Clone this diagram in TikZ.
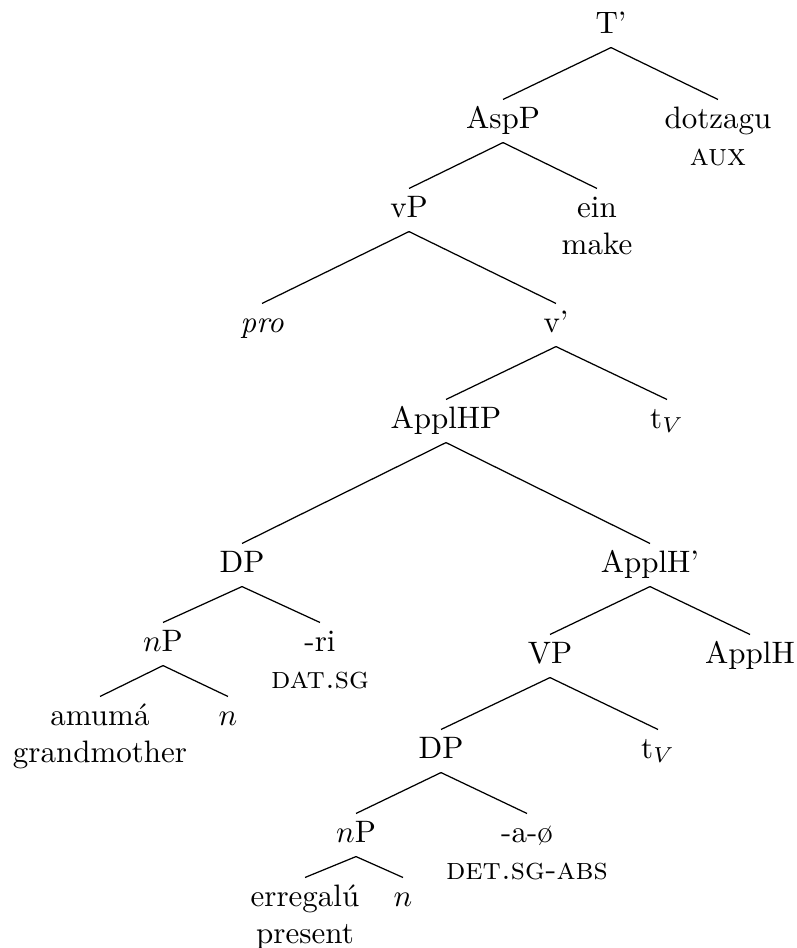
\documentclass[tikz,border=0pt]{standalone}
\usepackage{fontspec}
\begin{document}
\begin{tikzpicture}[x=0.32258pt,y=-0.32258pt,
  tn/.style={anchor=base,inner sep=0pt,text height=9pt,text depth=4.5pt},
  gl/.style={anchor=base,inner sep=0pt},
  br/.style={line width=0.4pt}]
\useasboundingbox (0,0) rectangle (797,948);
% nodes
\node[tn] (T) at (611,33) {T'};
\node[tn] (AspP) at (503,128) {AspP};
\node[tn] (dotz) at (718,128) {dotzagu};
\node[gl] (aux) at (718,165) {\textsc{aux}};
\node[tn] (vP) at (409,217) {vP};
\node[tn] (ein) at (597,217) {ein};
\node[gl] (make) at (597,254) {make};
\node[tn] (pro) at (262,332) {\textit{pro}};
\node[tn] (vbar) at (556,332) {v'};
\node[tn] (ApplHP) at (446,428) {ApplHP};
\node[tn] (tVa) at (667,428) {t$_V$};
\node[tn] (DPa) at (242,572) {DP};
\node[tn] (ApplHbar) at (650,572) {ApplH'};
\node[tn] (nPa) at (163,651) {$n$P};
\node[tn] (ri) at (320,651) {-ri};
\node[gl] (datsg) at (320,688) {\textsc{dat.sg}};
\node[tn] (VP) at (550,663) {VP};
\node[tn] (ApplH) at (750,663) {ApplH};
\node[tn] (amuma) at (100,725) {amumá};
\node[gl] (grand) at (100,762) {grandmother};
\node[tn] (na) at (228,725) {$n$};
\node[tn] (DPb) at (441,758) {DP};
\node[tn] (tVb) at (658,758) {t$_V$};
\node[tn] (nPb) at (356,842) {$n$P};
\node[tn] (a0) at (527,842) {-a-ø};
\node[gl] (detsg) at (527,879) {\textsc{det.sg-abs}};
\node[tn] (erreg) at (305,906) {erregalú};
\node[gl] (present) at (305,943) {present};
\node[tn] (nb) at (403,906) {$n$};
% branches
\draw[br] (T.south) -- (AspP.north);
\draw[br] (T.south) -- (dotz.north);
\draw[br] (AspP.south) -- (vP.north);
\draw[br] (AspP.south) -- (ein.north);
\draw[br] (vP.south) -- (pro.north);
\draw[br] (vP.south) -- (vbar.north);
\draw[br] (vbar.south) -- (ApplHP.north);
\draw[br] (vbar.south) -- (tVa.north);
\draw[br] (ApplHP.south) -- (DPa.north);
\draw[br] (ApplHP.south) -- (ApplHbar.north);
\draw[br] (DPa.south) -- (nPa.north);
\draw[br] (DPa.south) -- (ri.north);
\draw[br] (nPa.south) -- (amuma.north);
\draw[br] (nPa.south) -- (na.north);
\draw[br] (ApplHbar.south) -- (VP.north);
\draw[br] (ApplHbar.south) -- (ApplH.north);
\draw[br] (VP.south) -- (DPb.north);
\draw[br] (VP.south) -- (tVb.north);
\draw[br] (DPb.south) -- (nPb.north);
\draw[br] (DPb.south) -- (a0.north);
\draw[br] (nPb.south) -- (erreg.north);
\draw[br] (nPb.south) -- (nb.north);
\end{tikzpicture}
\end{document}
